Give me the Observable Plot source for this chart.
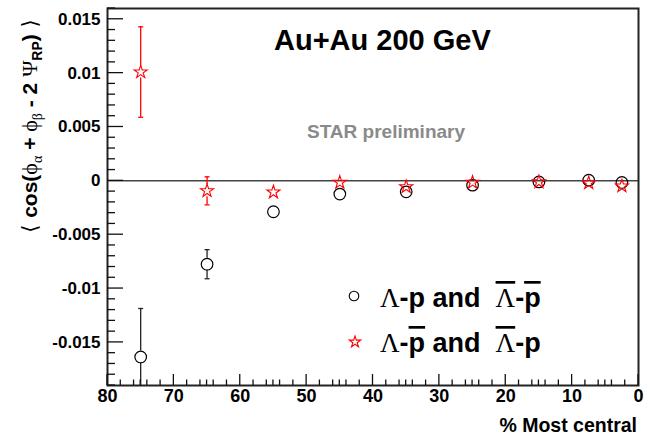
<!DOCTYPE html>
<html><head><meta charset="utf-8">
<script src="https://cdn.jsdelivr.net/npm/d3@7"></script>
<script src="https://cdn.jsdelivr.net/npm/@observablehq/plot@0.6"></script>
<style>
body{margin:0;background:#fff;}
#wrap{position:relative;width:655px;height:438px;}
</style></head><body><div id="wrap"></div>
<script>
// ---- data ----
const centrality = [75, 65, 55, 45, 35, 25, 15, 7.5, 2.5];
const sameVal = [-0.01635, -0.00774, -0.00287, -0.00123, -0.00102, -0.0004, -0.0001, 0.00006, -0.00015];
const sameErr = [0.0045, 0.00135, 0.0003, 0.0002, 0.0002, 0.00015, 0.00012, 0.00012, 0.00012];
const oppVal = [0.0101, -0.00093, -0.00105, -0.00015, -0.00056, -0.00015, -0.0001, -0.0002, -0.00049];
const oppErr = [0.0042, 0.0013, 0.0003, 0.0002, 0.0002, 0.00015, 0.00012, 0.00012, 0.00012];
const xTicks = [80, 70, 60, 50, 40, 30, 20, 10, 0];
const xTickLabels = ["80", "70", "60", "50", "40", "30", "20", "10", "0"];
const yTicks = [-0.015, -0.01, -0.005, 0, 0.005, 0.01, 0.015];
const yTickLabels = ["-0.015", "-0.01", "-0.005", "0", "0.005", "0.01", "0.015"];
const xDomain = [80, 0];
const yDomain = [-0.019, 0.016];

const same = centrality.map((c, i) => ({c, v: sameVal[i], e: sameErr[i]}));
const opp = centrality.map((c, i) => ({c, v: oppVal[i], e: oppErr[i]}));
const xMinor = d3.range(0, 81, 1).filter(d => d % 10 !== 0 && (d % 2 === 0 || d % 5 === 0));
const yMinor = d3.range(-19, 17, 1).map(d => d / 1000).filter(d => Math.abs(Math.round(d * 1000)) % 5 !== 0);

const capSymbol = {draw(ctx) { ctx.moveTo(-2.5, 0); ctx.lineTo(2.5, 0); }};
const showBar = d => d.e > 0.0008;

function errorMarks(data, color, gap) {
  const big = data.filter(showBar);
  return [
    Plot.ruleX(big, {x: "c", y1: d => d.v + d.e, y2: "v", insetBottom: gap, stroke: color, strokeWidth: 1.3, clip: true}),
    Plot.ruleX(big, {x: "c", y1: "v", y2: d => d.v - d.e, insetTop: gap, stroke: color, strokeWidth: 1.3, clip: true}),
    Plot.dot(big, {x: "c", y: d => d.v + d.e, symbol: capSymbol, r: 3, stroke: color, strokeWidth: 1.3, clip: true}),
    Plot.dot(big, {x: "c", y: d => d.v - d.e, symbol: capSymbol, r: 3, stroke: color, strokeWidth: 1.3, clip: true})
  ];
}

const chart = Plot.plot({
  width: 655, height: 438,
  marginLeft: 107, marginRight: 17, marginTop: 8, marginBottom: 53,
  style: {fontFamily: "'Liberation Sans', Arial, sans-serif", background: "white", color: "black", overflow: "visible"},
  x: {domain: xDomain, label: null},
  y: {domain: yDomain, label: null},
  marks: [
    Plot.ruleY([0], {stroke: "#444", strokeWidth: 1.5}),
    Plot.axisX(xTicks, {tickSize: 0, tickPadding: 4, label: null,
      tickFormat: d => xTickLabels[xTicks.indexOf(d)], fontSize: 18, fontWeight: "bold"}),
    Plot.axisY(yTicks, {tickSize: 0, tickPadding: 7, label: null,
      tickFormat: d => yTickLabels[yTicks.indexOf(d)], fontSize: 17, fontWeight: "bold"}),
    ...errorMarks(same, "#222", 6),
    ...errorMarks(opp, "red", 6),
    Plot.dot(same, {x: "c", y: "v", r: 5.8, stroke: "black", strokeWidth: 1.2, fill: "none"}),
    Plot.dot(opp, {x: "c", y: "v", symbol: "star", r: 4.1, stroke: "red", strokeWidth: 1.1, fill: "none"}),
    Plot.frame({stroke: "#222", strokeWidth: 2})
  ]
});
document.getElementById("wrap").appendChild(chart);

const svg = d3.select(chart);
const sx = chart.scale("x"), sy = chart.scale("y");
const x0 = sx.apply(xDomain[0]), yBottom = sy.apply(yDomain[0]);

// inward ticks (ROOT style) placed through Plot's own scales
const tickG = svg.append("g").attr("stroke", "#111").attr("stroke-width", 1.3);
for (const [vals, len] of [[xTicks, 11], [xMinor, 5.5]]) {
  for (const v of vals) {
    const px = sx.apply(v);
    tickG.append("line").attr("x1", px).attr("x2", px).attr("y1", yBottom).attr("y2", yBottom - len);
  }
}
for (const [vals, len] of [[yTicks, 16], [yMinor, 8]]) {
  for (const v of vals) {
    const py = sy.apply(v);
    tickG.append("line").attr("x1", x0).attr("x2", x0 + len).attr("y1", py).attr("y2", py);
  }
}

const SANS = "'Liberation Sans', Arial, sans-serif";
const SERIF = "'Liberation Serif', 'Times New Roman', serif";

function addText(x, y, parts, opts = {}) {
  const t = svg.append("text").attr("x", x).attr("y", y)
    .attr("font-family", SANS).attr("font-weight", "bold").attr("fill", opts.fill || "black")
    .attr("font-size", opts.size || 20).attr("text-anchor", opts.anchor || "start");
  if (opts.transform) t.attr("transform", opts.transform).attr("x", 0).attr("y", 0);
  for (const p of parts) {
    const s = t.append("tspan").text(p.t);
    if (p.serif) s.attr("font-family", SERIF).attr("font-weight", "normal");
    if (p.sym) s.attr("font-family", "'DejaVu Sans', sans-serif").attr("font-weight", "normal");
    if (p.size) s.attr("font-size", p.size);
    if (p.dy) s.attr("dy", p.dy);
    if (p.bar) s.attr("text-decoration", "overline");
  }
  return t;
}

// title & watermark
addText(274, 50, [{t: "Au+Au 200 GeV"}], {size: 29});
addText(307, 138, [{t: "STAR preliminary"}], {size: 19, fill: "#8a8a8a"});

// x label
addText(637, 432, [{t: "% Most central"}], {size: 19.5, anchor: "end"});

// y label
addText(0, 0, [
  {t: "\u27E8 ", sym: true, size: 21},
  {t: "cos("},
  {t: "\u03D5", serif: true, size: 22},
  {t: "\u03B1", serif: true, size: 14, dy: 5},
  {t: " + ", dy: -5},
  {t: "\u03D5", serif: true, size: 22},
  {t: "\u03B2", serif: true, size: 14, dy: 5},
  {t: " - 2 ", dy: -5},
  {t: "\u03A8", serif: true, size: 22},
  {t: "RP", size: 14, dy: 5},
  {t: ")", dy: -5},
  {t: " \u27E9", sym: true, size: 21}
], {size: 21, anchor: "middle", transform: "translate(37,126) rotate(-90)"});

// legend
svg.append("circle").attr("cx", 354).attr("cy", 296).attr("r", 4.8)
  .attr("fill", "none").attr("stroke", "black").attr("stroke-width", 1.1);
svg.append("path").attr("d", d3.symbol(d3.symbolStar, 40)())
  .attr("transform", "translate(355,342)")
  .attr("fill", "none").attr("stroke", "red").attr("stroke-width", 1.1);

addText(380, 307, [
  {t: "\u039B", serif: true},
  {t: "-p and  "},
  {t: "\u039B", serif: true, bar: true},
  {t: "-"},
  {t: "p", bar: true}
], {size: 27});
addText(380, 352, [
  {t: "\u039B", serif: true},
  {t: "-"},
  {t: "p", bar: true},
  {t: " and  "},
  {t: "\u039B", serif: true, bar: true},
  {t: "-p"}
], {size: 27});
</script></body></html>
